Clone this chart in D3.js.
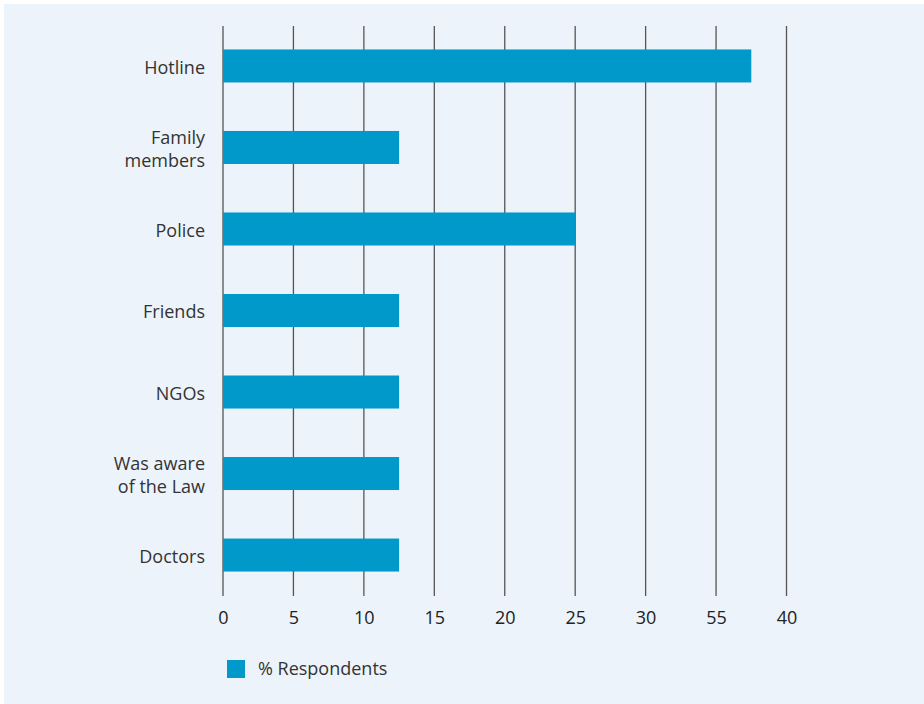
<!DOCTYPE html>
<html>
<head>
<meta charset="utf-8">
<script src="https://cdn.jsdelivr.net/npm/d3@7"></script>
<style>
  html, body { margin: 0; padding: 0; background: #ffffff; }
  svg { display: block; font-family: "Open Sans", "Noto Sans", sans-serif; }
</style>
</head>
<body>
<svg id="chart" width="924" height="704"></svg>
<script>
// Sources of information reported by respondents
const categories = [
  ["Hotline"],
  ["Family", "members"],
  ["Police"],
  ["Friends"],
  ["NGOs"],
  ["Was aware", "of the Law"],
  ["Doctors"]
];
const values = [37.5, 12.5, 25, 12.5, 12.5, 12.5, 12.5];
const tickValues = [0, 5, 10, 15, 20, 25, 30, 35, 40];
const tickLabels = ["0", "5", "10", "15", "20", "25", "30", "55", "40"];
const seriesName = "% Respondents";

const barColor = "#0099c9";
const fontSize = 18;
const svg = d3.select("#chart");

// panel background
svg.append("rect")
  .attr("x", 4).attr("y", 4)
  .attr("width", 920).attr("height", 700)
  .attr("fill", "#ecf3fa");

const plotLeft = 223, plotRight = 786.5, plotTop = 26, plotBottom = 596;

const x = d3.scaleLinear().domain([0, 40]).range([plotLeft, plotRight]);
const y = d3.scaleBand()
  .domain(d3.range(categories.length))
  .range([25, 596])
  .paddingInner(0.595)
  .paddingOuter(0.3);

// vertical gridlines
svg.append("g")
  .selectAll("line")
  .data(tickValues)
  .join("line")
  .attr("x1", d => x(d)).attr("x2", d => x(d))
  .attr("y1", plotTop).attr("y2", plotBottom)
  .attr("stroke", "#555")
  .attr("stroke-width", 1.3);

// bars
svg.append("g")
  .selectAll("rect")
  .data(values)
  .join("rect")
  .attr("x", x(0))
  .attr("y", (d, i) => y(i))
  .attr("width", d => x(d) - x(0))
  .attr("height", y.bandwidth())
  .attr("fill", barColor);

// category labels
const labels = svg.append("g")
  .selectAll("text")
  .data(categories)
  .join("text")
  .attr("text-anchor", "end")
  .attr("font-size", fontSize)
  .attr("fill", "#333");
labels.each(function (lines, i) {
  const cy = y(i) + y.bandwidth() / 2 + 1.5;
  const lh = 23;
  const y0 = cy - (lines.length - 1) * lh / 2;
  d3.select(this).selectAll("tspan")
    .data(lines)
    .join("tspan")
    .attr("x", 205)
    .attr("y", (d, k) => y0 + k * lh)
    .attr("dy", "0.35em")
    .text(d => d);
});

// x axis tick labels
const axis = d3.axisBottom(x)
  .tickValues(tickValues)
  .tickFormat((d, i) => tickLabels[i])
  .tickSize(0)
  .tickPadding(0);
const gx = svg.append("g")
  .attr("transform", `translate(0,${plotBottom + 15})`)
  .call(axis);
gx.select(".domain").remove();
gx.selectAll("text")
  .attr("font-family", "\"Open Sans\", \"Noto Sans\", sans-serif")
  .attr("font-size", fontSize)
  .attr("fill", "#222");

// legend
const lg = svg.append("g").attr("transform", "translate(227,660)");
lg.append("rect").attr("width", 18).attr("height", 18).attr("fill", barColor);
lg.append("text")
  .attr("x", 31).attr("y", 9).attr("dy", "0.35em")
  .attr("font-size", fontSize)
  .attr("fill", "#333")
  .text(seriesName);
</script>
</body>
</html>
